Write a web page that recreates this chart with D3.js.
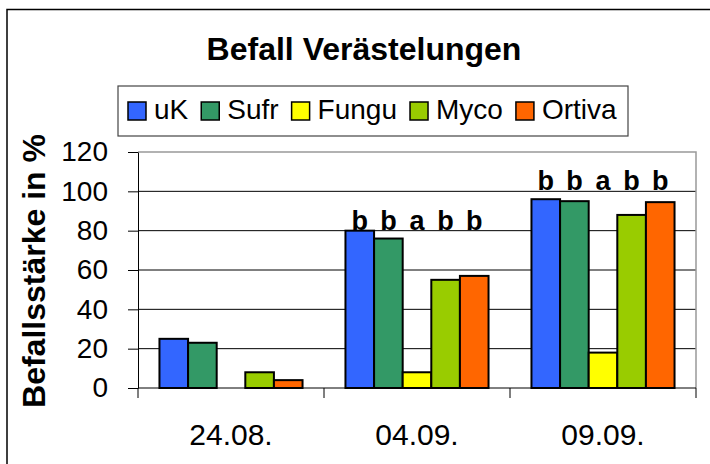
<!DOCTYPE html>
<meta charset="utf-8">
<style>
  body { margin: 0; background: #fff; }
  text { font-family: "Liberation Sans", Arial, sans-serif; }
</style>
<script src="https://d3js.org/d3.v7.min.js"></script>
<div id="chart"></div>
<script>
  // data
  var dates = ["24.08.", "04.09.", "09.09."];
  var series = ["uK", "Sufr", "Fungu", "Myco", "Ortiva"];
  var colors = ["#3366FF", "#339966", "#FFFF00", "#99CC00", "#FF6600"];
  var uK     = [25, 80, 96];
  var Sufr   = [23, 76, 95];
  var Fungu  = [0, 8, 18];
  var Myco   = [8, 55, 88];
  var Ortiva = [4, 57, 94.5];
  // significance letters, and the level they sit at
  var letters = [["", "", "", "", ""], ["b", "b", "a", "b", "b"], ["b", "b", "a", "b", "b"]];
  var letterLevel = [null, 80, 100];
  var yTicks = [0, 20, 40, 60, 80, 100, 120];

  var values = [uK, Sufr, Fungu, Myco, Ortiva];

  var W = 710, H = 464;
  var plot = {left: 138, right: 696, top: 152, bottom: 388};

  var svg = d3.select("#chart").append("svg")
    .attr("width", W).attr("height", H);

  // outer chart frame (right/bottom run off the picture)
  svg.append("path")
    .attr("d", "M7,470 V9.5 H720")
    .attr("fill", "none").attr("stroke", "#000").attr("stroke-width", 1.5);

  // title
  svg.append("text")
    .attr("x", 364).attr("y", 60)
    .attr("text-anchor", "middle")
    .style("font-size", "32px").style("font-weight", "bold")
    .text("Befall Verästelungen");

  // scales
  var x0 = d3.scaleBand().domain(dates).range([plot.left, plot.right]).padding(0);
  var x1 = d3.scaleBand().domain(series).range([0, x0.bandwidth()])
    .paddingInner(0).paddingOuter(0.75);
  var y = d3.scaleLinear().domain([0, 120]).range([plot.bottom, plot.top]);

  // gridlines
  svg.append("g").selectAll("line")
    .data(yTicks.filter(function(d){ return d > 0 && d < 120; }))
    .enter().append("line")
      .attr("x1", plot.left).attr("x2", plot.right)
      .attr("y1", function(d){ return y(d); }).attr("y2", function(d){ return y(d); })
      .attr("stroke", "#000").attr("stroke-width", 1);

  // plot area border top + right (gray)
  svg.append("path")
    .attr("d", "M" + plot.left + "," + y(120) + " H" + plot.right + " V" + plot.bottom)
    .attr("fill", "none").attr("stroke", "#999").attr("stroke-width", 1.5);

  // y axis
  var yAxis = svg.append("g")
    .attr("transform", "translate(" + plot.left + ",0)")
    .call(d3.axisLeft(y).tickValues(yTicks).tickSize(10).tickPadding(20).tickSizeOuter(0));
  yAxis.select(".domain").attr("stroke", "#000");
  yAxis.selectAll("text").style("font-size", "28px").attr("font-family", null);

  // x axis with ticks at category boundaries
  var xg = svg.append("g").attr("transform", "translate(0," + plot.bottom + ")");
  xg.append("line").attr("x1", plot.left).attr("x2", plot.right).attr("stroke", "#000");
  xg.selectAll(".bound")
    .data(dates.concat(["end"]))
    .enter().append("line")
      .attr("x1", function(d, i){ return i < dates.length ? x0(d) : plot.right; })
      .attr("x2", function(d, i){ return i < dates.length ? x0(d) : plot.right; })
      .attr("y1", 0).attr("y2", 10).attr("stroke", "#000");
  xg.selectAll(".lab")
    .data(dates).enter().append("text")
      .attr("x", function(d){ return x0(d) + x0.bandwidth() / 2; })
      .attr("y", 57)
      .attr("text-anchor", "middle")
      .style("font-size", "30px")
      .text(function(d){ return d; });

  // bars
  var groups = svg.append("g").selectAll("g")
    .data(dates).enter().append("g")
      .attr("transform", function(d){ return "translate(" + x0(d) + ",0)"; });

  groups.selectAll("rect")
    .data(function(d, i){ return series.map(function(s, j){ return {s: s, v: values[j][i], c: colors[j]}; }); })
    .enter().append("rect")
      .attr("x", function(d){ return x1(d.s); })
      .attr("width", x1.bandwidth())
      .attr("y", function(d){ return y(d.v); })
      .attr("height", function(d){ return y(0) - y(d.v); })
      .attr("fill", function(d){ return d.c; })
      .attr("stroke", function(d){ return d.v > 0 ? "#000" : "none"; })
      .attr("stroke-width", 2);

  // letters
  groups.selectAll(".let")
    .data(function(d, i){ return series.map(function(s, j){ return {s: s, t: letters[i][j], lv: letterLevel[i]}; }); })
    .enter().append("text")
      .filter(function(d){ return d.t !== ""; })
      .attr("x", function(d){ return x1(d.s) + x1.bandwidth() / 2; })
      .attr("y", function(d){ return y(d.lv) - 1; })
      .attr("text-anchor", "middle")
      .style("font-size", "27px").style("font-weight", "bold")
      .text(function(d){ return d.t; });

  // y axis title
  svg.append("text")
    .attr("transform", "translate(45,271) rotate(-90)")
    .attr("text-anchor", "middle")
    .style("font-size", "32px").style("font-weight", "bold")
    .text("Befallsstärke in %");

  // legend
  var lg = svg.append("g");
  lg.append("rect")
    .attr("x", 118).attr("y", 86).attr("width", 510).attr("height", 50)
    .attr("fill", "#fff").attr("stroke", "#444").attr("stroke-width", 1.2);
  var lx = 128;
  series.forEach(function(s, j) {
    lg.append("rect")
      .attr("x", lx).attr("y", 102).attr("width", 18).attr("height", 18)
      .attr("fill", colors[j]).attr("stroke", "#000").attr("stroke-width", 1.5);
    var t = lg.append("text")
      .attr("x", lx + 26).attr("y", 119)
      .style("font-size", "28px")
      .text(s);
    lx = lx + 26 + t.node().getComputedTextLength() + 13;
  });
</script>
